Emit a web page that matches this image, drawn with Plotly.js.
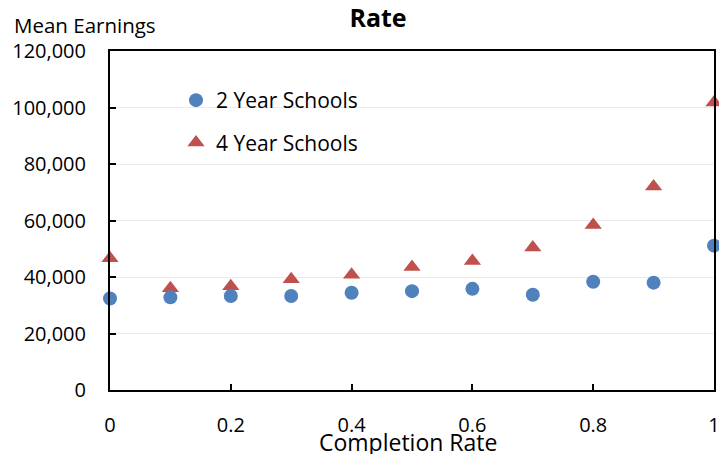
<!DOCTYPE html>
<html>
<head>
<meta charset="utf-8">
<script src="https://cdn.plot.ly/plotly-3.0.1.min.js"></script>
<style>
  html, body { margin: 0; padding: 0; background: #fff; }
  #chart { width: 719px; height: 456px; }
</style>
</head>
<body>
<div id="chart"></div>
<script>
// Completion rate buckets and mean earnings per school type
const completionRate = [0, 0.1, 0.2, 0.3, 0.4, 0.5, 0.6, 0.7, 0.8, 0.9, 1];
const twoYearEarnings = [32400, 32800, 33300, 33300, 34400, 35000, 35800, 33700, 38300, 38000, 51100];
const fourYearEarnings = [46600, 36000, 36700, 39200, 40800, 43500, 45700, 50400, 58400, 72000, 101800];
const yTicks = [0, 20000, 40000, 60000, 80000, 100000, 120000];
const xTicks = [0, 0.2, 0.4, 0.6, 0.8, 1];

const FONT = '"Open Sans", Lato, sans-serif';
const blue = '#4F81BD';
const red = '#C0504D';

// red first so blue dots sit on top; legendrank puts 2 Year first
const traces = [
  {
    type: 'scatter', mode: 'markers', name: '4 Year Schools',
    x: completionRate, y: fourYearEarnings, legendgroup: 'four', legendrank: 2,
    marker: { symbol: 'triangle-up', size: 15, color: red },
    cliponaxis: false
  },
  {
    type: 'scatter', mode: 'markers', name: '2 Year Schools',
    x: completionRate, y: twoYearEarnings, legendgroup: 'two', legendrank: 1,
    marker: { symbol: 'circle', size: 14, color: blue },
    cliponaxis: false
  }
];

const layout = {
  width: 719, height: 456,
  margin: { l: 110, r: 5, t: 51, b: 66 },
  paper_bgcolor: '#fff', plot_bgcolor: '#fff',
  font: { family: FONT, size: 20, color: '#000' },
  title: {
    text: 'Rate',
    font: { family: FONT, size: 25, weight: 'bold', color: '#000' },
    xref: 'container', x: 378 / 719, xanchor: 'center',
    yref: 'container', y: 1 - 18 / 456, yanchor: 'middle'
  },
  xaxis: {
    range: [0, 1], tickvals: xTicks, ticktext: xTicks.map(String),
    showline: true, linecolor: '#000', linewidth: 2, mirror: true,
    ticks: 'inside', ticklen: 6, tickwidth: 2, tickcolor: '#000',
    showgrid: false, zeroline: false,
    ticklabelstandoff: 16, ticklabeloverflow: 'allow',
    tickfont: { family: FONT, size: 20, color: '#000' }
  },
  yaxis: {
    range: [0, 120000], tickvals: yTicks, tickformat: ',d',
    showline: true, linecolor: '#000', linewidth: 2, mirror: true,
    ticks: 'inside', ticklen: 6, tickwidth: 2, tickcolor: '#000',
    showgrid: true, gridcolor: '#ebebeb', gridwidth: 1, zeroline: false,
    ticklabelstandoff: 18,
    tickfont: { family: FONT, size: 20, color: '#000' }
  },
  legend: {
    x: (176 - 110) / 604, xanchor: 'left',
    y: 1 - (80 - 51) / 339, yanchor: 'top',
    bgcolor: 'rgba(0,0,0,0)', borderwidth: 0,
    traceorder: 'grouped', tracegroupgap: 12,
    font: { family: FONT, size: 21, color: '#000' }
  },
  annotations: [
    {
      text: 'Mean Earnings', showarrow: false,
      xref: 'paper', yref: 'paper',
      x: (12 - 110) / 604, xanchor: 'left',
      y: 1 + (51 - 25) / 339, yanchor: 'middle',
      font: { family: FONT, size: 20.5, color: '#000' }
    },
    {
      // x-axis title drawn tight under the tick labels as in the original
      text: 'Completion Rate', showarrow: false,
      xref: 'paper', yref: 'paper',
      x: (408 - 110) / 604, xanchor: 'center',
      y: -(442 - 390) / 339, yanchor: 'middle',
      height: 24, valign: 'middle',
      font: { family: FONT, size: 23, color: '#000' }
    }
  ]
};

Plotly.newPlot('chart', traces, layout, { displayModeBar: false, staticPlot: true });
</script>
</body>
</html>
